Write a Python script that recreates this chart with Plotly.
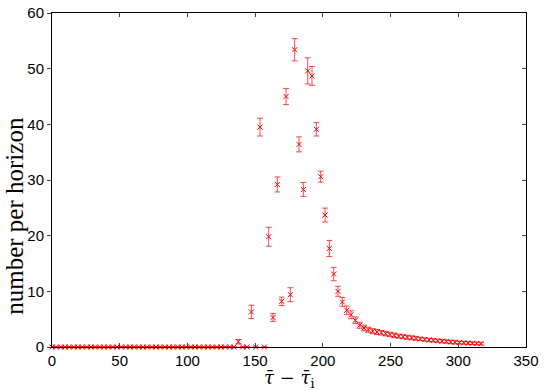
import plotly.graph_objects as go

# bin centres of tau_bar - tau_bar_i
tau = [0.0, 3.2, 6.4, 9.6, 12.8, 16.0, 19.2, 22.4, 25.6, 28.8,
       32.0, 35.2, 38.4, 41.6, 44.8, 48.0, 51.2, 54.4, 57.6, 60.8,
       64.0, 67.2, 70.4, 73.6, 76.8, 80.0, 83.2, 86.4, 89.6, 92.8,
       96.0, 99.2, 102.4, 105.6, 108.8, 112.0, 115.2, 118.4, 121.6, 124.8,
       128.0, 131.2, 134.4, 137.6, 140.8, 144.0, 147.2, 150.4, 153.6, 156.8,
       160.0, 163.2, 166.4, 169.6, 172.8, 176.0, 179.2, 182.4, 185.6, 188.8,
       192.0, 195.2, 198.4, 201.6, 204.8, 208.0, 211.2, 214.4, 217.6, 220.8,
       224.0, 227.2, 230.4, 233.6, 236.8, 240.0, 243.2, 246.4, 249.6, 252.8,
       256.0, 259.2, 262.4, 265.6, 268.8, 272.0, 275.2, 278.4, 281.6, 284.8,
       288.0, 291.2, 294.4, 297.6, 300.8, 304.0, 307.2, 310.4, 313.6, 316.8]

# number per horizon
count = [0, 0, 0, 0, 0, 0, 0, 0, 0, 0,
         0, 0, 0, 0, 0, 0, 0, 0, 0, 0,
         0, 0, 0, 0, 0, 0, 0, 0, 0, 0,
         0, 0, 0, 0, 0, 0, 0, 0, 0, 0,
         0, 0, 0, 0.95, 0, 0, 6.3, 0, 39.5, 0,
         19.8, 5.3, 29.2, 8.2, 45.0, 9.4, 53.4, 36.4, 28.3, 49.6,
         48.7, 39.1, 30.6, 23.7, 17.7, 13.1, 10.0, 8.1, 6.6, 5.8,
         4.8, 3.9, 3.4, 3.1, 2.85, 2.7, 2.55, 2.4, 2.25, 2.1,
         1.95, 1.85, 1.75, 1.65, 1.55, 1.45, 1.35, 1.27, 1.2, 1.12,
         1.05, 0.98, 0.9, 0.85, 0.8, 0.75, 0.7, 0.67, 0.63, 0.6]

err = [0, 0, 0, 0, 0, 0, 0, 0, 0, 0,
       0, 0, 0, 0, 0, 0, 0, 0, 0, 0,
       0, 0, 0, 0, 0, 0, 0, 0, 0, 0,
       0, 0, 0, 0, 0, 0, 0, 0, 0, 0,
       0, 0, 0, 0.4, 0, 0, 1.2, 0, 1.6, 0,
       1.7, 0.7, 1.35, 0.75, 1.45, 1.25, 2.0, 1.35, 1.25, 2.35,
       1.7, 1.2, 1.0, 1.25, 1.45, 1.2, 0.9, 0.8, 0.75, 0.7,
       0.6, 0.55, 0.5, 0.45, 0.45, 0.45, 0.4, 0.4, 0.4, 0.4,
       0.35, 0.35, 0.35, 0.35, 0.35, 0.3, 0.3, 0.3, 0.3, 0.3,
       0.3, 0.3, 0.3, 0.3, 0.25, 0.25, 0.25, 0.25, 0.25, 0.25]

fig = go.Figure()
fig.add_scatter(x=tau, y=count, mode='markers', cliponaxis=False,
                marker=dict(symbol='x-thin-open', size=5, color='red',
                            line=dict(width=1, color='red')),
                error_y=dict(type='data', array=err, color='rgba(255,0,0,0.7)',
                             thickness=1, width=3))
# ghost trace so the right-hand axis (inward ticks) is drawn
fig.add_scatter(x=tau, y=count, yaxis='y2', mode='markers',
                marker=dict(opacity=0), hoverinfo='skip', showlegend=False)

tickfont = dict(family='Liberation Sans, Arial', size=15, color='black')
fig.update_layout(
    width=545, height=391,
    margin=dict(l=52, r=19, t=13, b=44),
    plot_bgcolor='white', paper_bgcolor='white',
    showlegend=False,
    xaxis=dict(range=[0, 350], dtick=50, ticks='inside', ticklen=4,
               showline=True, linecolor='black', linewidth=1, mirror='ticks',
               showgrid=False, zeroline=False, tickfont=tickfont,
               automargin=False),
    yaxis=dict(range=[0, 60], dtick=10, ticks='outside', ticklen=4,
               showline=True, linecolor='black', linewidth=1, mirror=True,
               showgrid=False, zeroline=False, tickfont=tickfont,
               automargin=False),
    yaxis2=dict(range=[0, 60], dtick=10, overlaying='y', side='right',
                ticks='inside', ticklen=4, showticklabels=False,
                showline=False, showgrid=False, zeroline=False,
                automargin=False),
    annotations=[
        dict(text='<i>τ̄</i> − <i>τ̄</i><sub>i</sub>', xref='paper', yref='paper',
             x=0.502, y=-0.097, xanchor='center', yanchor='middle',
             showarrow=False, borderpad=0,
             font=dict(family='DejaVu Serif, Liberation Serif', size=18,
                       color='black')),
        dict(text='number per horizon', xref='paper', yref='paper',
             x=-0.078, y=0.393, xanchor='center', yanchor='middle',
             textangle=-90, showarrow=False,
             font=dict(family='Liberation Serif, Times New Roman', size=25,
                       color='black')),
    ],
)

# drop the default 8px page margin so the figure sits at the window's corner
fig.write_html("out.html", config={'displayModeBar': False},
               post_script="document.body.style.margin='0px';")
